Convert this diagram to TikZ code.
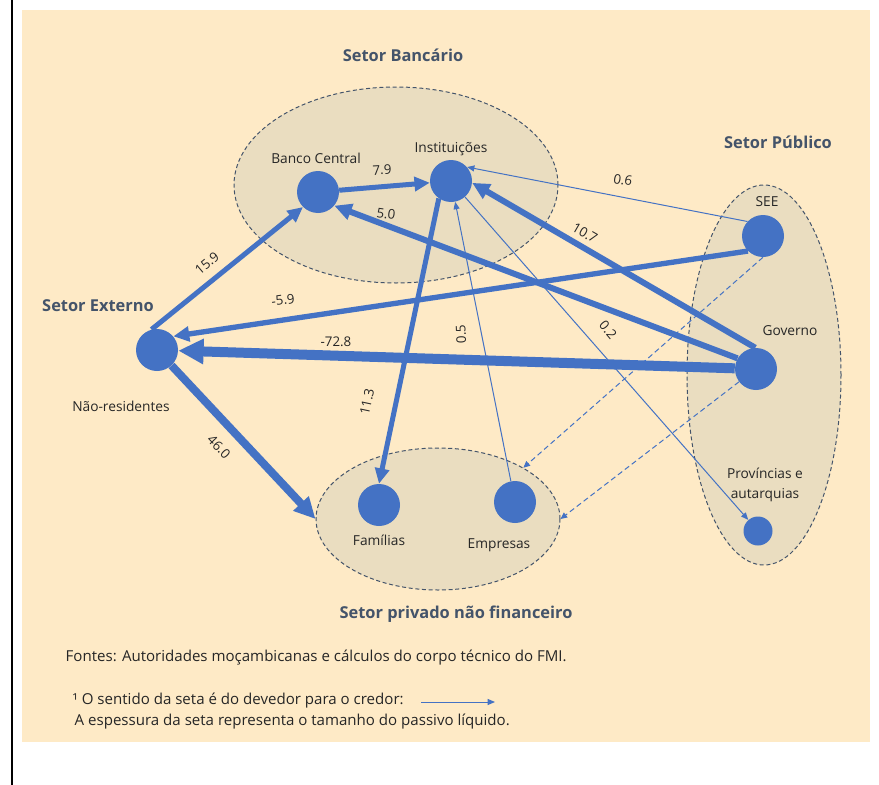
\documentclass[tikz,border=0pt]{standalone}
\usepackage{fontspec}
\setmainfont{Open Sans}
\usetikzlibrary{arrows.meta,shapes.geometric}

\definecolor{fundo}{HTML}{FEEAC6}
\definecolor{setorfill}{HTML}{EADDC0}
\definecolor{setorline}{HTML}{44546A}
\definecolor{azul}{HTML}{4472C4}
\definecolor{texto}{HTML}{262626}

\begin{document}
\begin{tikzpicture}[x=0.75pt, y=-0.75pt]
    % ===================================
    % 設定
    % ===================================
    \tikzset{
        dot/.style={circle, fill=azul, inner sep=0pt, minimum size=31.5pt},
        setor/.style={ellipse, draw=setorline, fill=setorfill, line width=0.75pt,
            dash pattern=on 3pt off 2pt, inner sep=0pt},
        titulo/.style={font=\bfseries\fontsize{12.3}{14}\selectfont, text=setorline},
        rotulo/.style={font=\fontsize{10.3}{15}\selectfont, text=texto, align=center},
        valor/.style={font=\fontsize{10}{11}\selectfont, text=texto},
        nota/.style={font=\fontsize{11.3}{13}\selectfont, text=texto, anchor=west},
        fluxo/.style={draw=azul, line width=#1, -{Triangle[length=4pt 2, width=3pt 2]}},
        tracejado/.style={draw=azul, line width=0.75pt, dash pattern=on 4pt off 2.5pt,
            -{Triangle[length=5pt, width=4.5pt]}}
    }
    % ===================================

    % 0. 背景
    \useasboundingbox (0,0) rectangle (879,785);
    \fill[white] (0,0) rectangle (879,785);
    \fill[fundo] (22,10) rectangle (870,742);
    \draw[line width=1.5pt] (12,0) -- (12,785);

    % 1. 部門の楕円
    \node[setor, minimum width=243pt, minimum height=147pt] (bancario) at (396,185) {};
    \node[setor, minimum width=115.5pt, minimum height=285pt] (publico) at (764,375) {};
    \node[setor, minimum width=183pt, minimum height=106.5pt] (privado) at (438,519) {};

    \node[titulo] (tbanc) at (403,55) {Setor Bancário};
    \node[titulo] (tpub) at (778,142) {Setor Público};
    \node[titulo] (tsext) at (98,306) {Setor Externo};
    \node[titulo] (tpriv) at (456,614) {Setor privado não financeiro};

    % 2. 点の配置
    \node[dot] (bc) at (318,192) {};
    \node[dot] (inst) at (451,181) {};
    \node[dot] (see) at (763,236) {};
    \node[dot] (gov) at (756,369) {};
    \node[dot, minimum size=21.75pt] (prov) at (758,531) {};
    \node[dot] (nres) at (157,350) {};
    \node[dot] (fam) at (379,505) {};
    \node[dot] (emp) at (515,502) {};

    \node[rotulo] (tbc) at (316,158) {Banco Central};
    \node[rotulo] (tinst) at (451,149) {Instituições};
    \node[rotulo] (tsee) at (767,202) {SEE};
    \node[rotulo] (tgov) at (790,331) {Governo};
    \node[rotulo] (tprov) at (765,485) {Províncias e\\autarquias};
    \node[rotulo] (tnres) at (121,406) {Não-residentes};
    \node[rotulo] (tfam) at (379,540) {Famílias};
    \node[rotulo] (temp) at (499,545) {Empresas};

    % 3. 矢印 (devedor -> credor)
    \draw[fluxo=3.75pt] (bc) -- (inst);
    \draw[fluxo=4.5pt] (gov.150) -- (bc.-40);
    \draw[fluxo=4.5pt] (gov.92) -- (inst.-5);
    \draw[fluxo=0.75pt] (see.137) -- (inst.41);
    \draw[fluxo=4pt] (see.225) -- (nres.40);
    \draw[fluxo=7.5pt] (gov) -- (nres);
    \draw[fluxo=3.75pt] (nres.105) -- (bc.225);
    \draw[fluxo=6pt] (nres) -- (privado.west);
    \draw[fluxo=3.75pt] (inst.235) -- (fam.north);
    \draw[fluxo=0.75pt] (emp) -- (inst);
    \draw[fluxo=0.75pt] (inst) -- (prov);
    \draw[tracejado] (see.south) -- (privado.31);
    \draw[tracejado] (gov.217) -- (privado.east);

    % 数値
    \node[valor, rotate=3] (v79) at (382,170) {7.9};
    \node[valor, rotate=-8] (v50) at (386,214) {5.0};
    \node[valor, rotate=-30] (v107) at (585,233) {10.7};
    \node[valor, rotate=-10] (v06) at (623,180) {0.6};
    \node[valor, rotate=8] (v59) at (283,300) {-5.9};
    \node[valor] (v728) at (336,342) {-72.8};
    \node[valor, rotate=40] (v159) at (207,263) {15.9};
    \node[valor, rotate=-46] (v460) at (219,447) {46.0};
    \node[valor, rotate=78] (v113) at (367,402) {11.3};
    \node[valor, rotate=92] (v05) at (461,334) {0.5};
    \node[valor, rotate=-50] (v02) at (608,330) {0.2};

    % 4. 注記
    \node[nota] (fontes) at (61,658) {Fontes: Autoridades moçambicanas e cálculos do corpo técnico do FMI.};
    \node[nota] (sentido) at (68,701) {¹ O sentido da seta é do devedor para o credor:};
    \node[nota] (espessura) at (70,722) {A espessura da seta representa o tamanho do passivo líquido.};
    \coordinate (ka) at (421,702);
    \coordinate (kb) at (495,702);
    \draw[fluxo=0.75pt] (ka) -- (kb);

\end{tikzpicture}
\end{document}
